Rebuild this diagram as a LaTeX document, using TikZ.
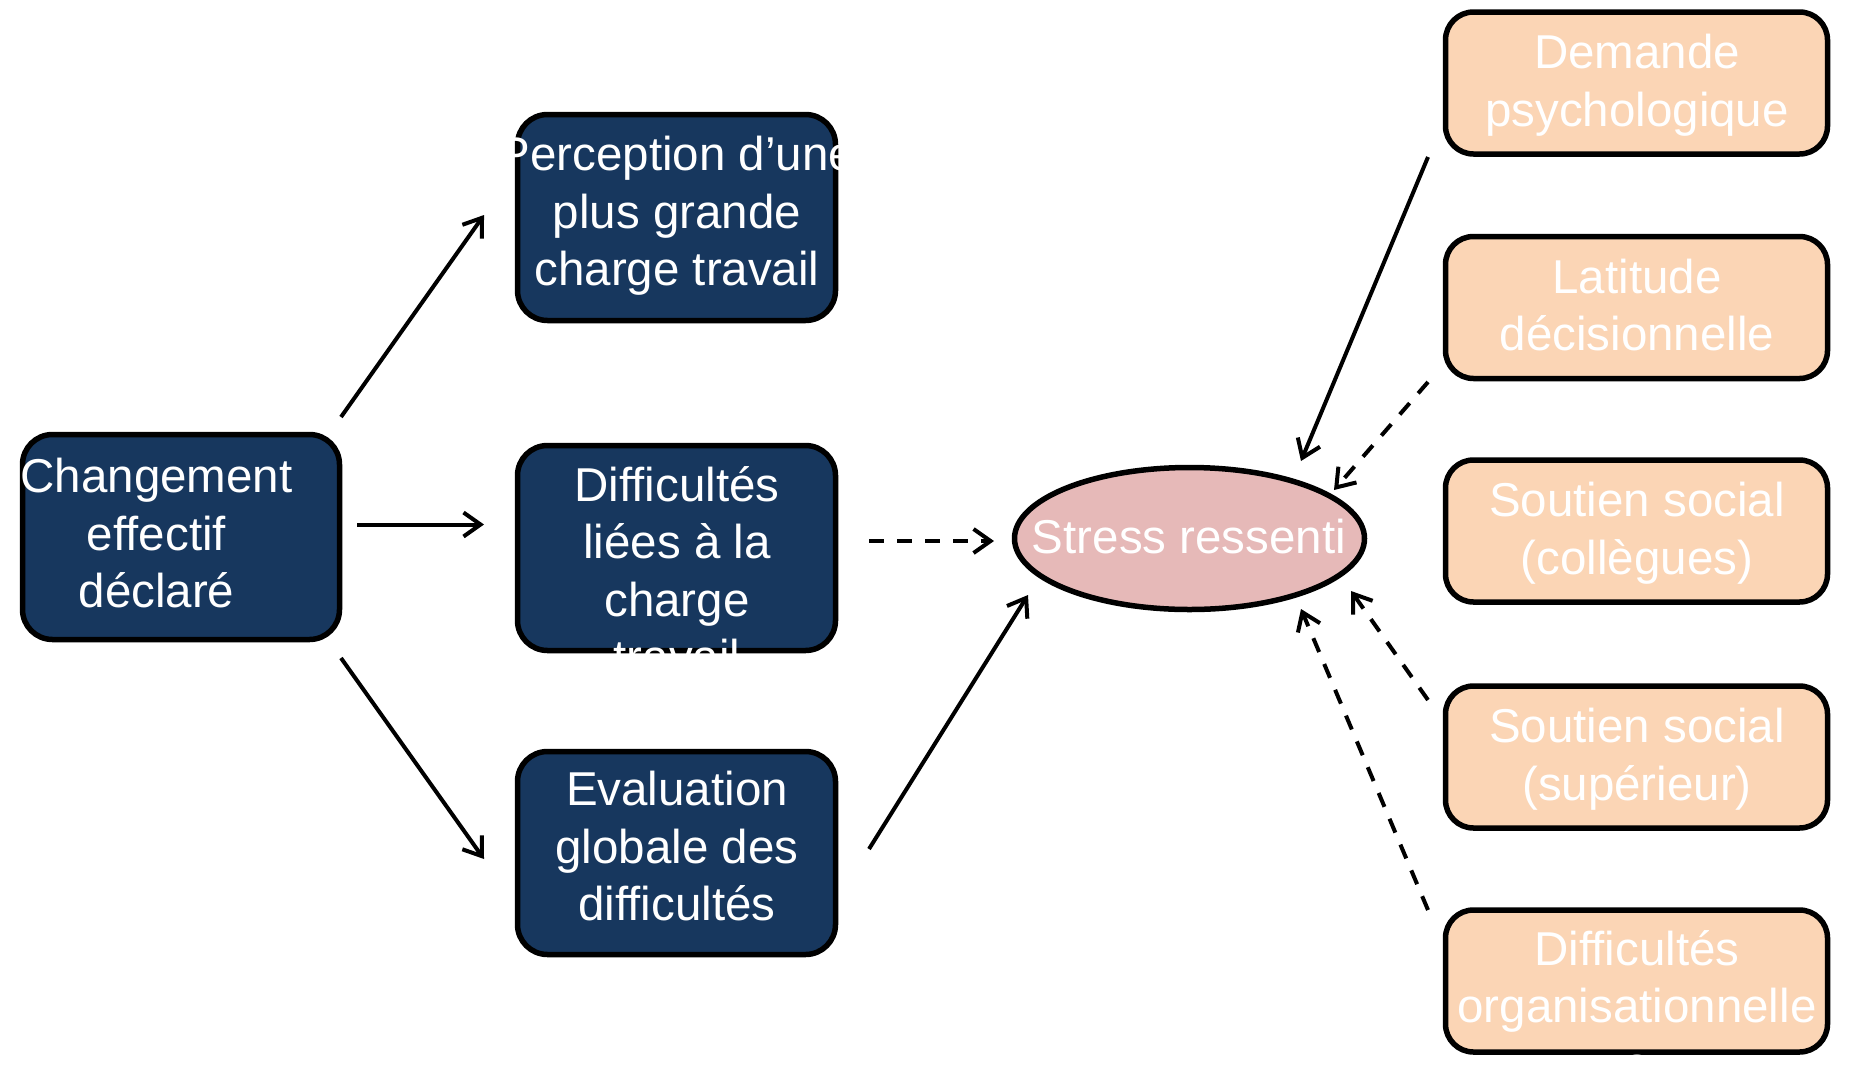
\documentclass[tikz,border=0pt]{standalone}
\usepackage{fontspec}
\setmainfont{Liberation Sans}
\usetikzlibrary{shapes.geometric,arrows.meta}
\definecolor{navy}{HTML}{17375E}
\definecolor{peach}{HTML}{FBD5B5}
\definecolor{rosy}{HTML}{E6B9B8}
\begin{document}
\begin{tikzpicture}[x=1pt,y=-1pt,
  darkbox/.style={draw=black, line width=5.5pt, fill=navy, rounded corners=30pt, minimum width=318pt, minimum height=205pt, inner sep=0pt, outer sep=0pt},
  peachbox/.style={draw=black, line width=5.5pt, fill=peach, rounded corners=28pt, minimum width=382pt, minimum height=142pt, inner sep=0pt, outer sep=0pt},
  txt/.style={text=white, align=center, font=\fontsize{47.5}{57.5}\selectfont, inner sep=0pt},
  arr/.style={line width=4pt, -{Straight Barb[length=17pt,width=24pt]}},
  dsh/.style={arr, dash pattern=on 15pt off 13pt}]
\useasboundingbox (0,0) rectangle (1865,1066);
% left and middle boxes
\node[darkbox, minimum width=317pt] (chg) at (181,537) {};
\node[darkbox, minimum height=206pt] (per) at (676.5,217.5) {};
\node[darkbox] (dif) at (676.5,548) {};
\node[darkbox, minimum height=203pt] (eva) at (676.5,853) {};
% stress ellipse
\node[ellipse, draw=black, line width=5.5pt, fill=rosy, minimum width=350pt, minimum height=142pt, inner sep=0pt, outer sep=0pt] (str) at (1189.5,538.5) {};
% right boxes
\node[peachbox] (dem) at (1636.5,83) {};
\node[peachbox] (lat) at (1636.5,307.5) {};
\node[peachbox] (sc) at (1636.5,531) {};
\node[peachbox] (ss) at (1636.5,757) {};
\node[peachbox] (do) at (1636.5,981) {};
% texts
\node[txt] (tchg) at (156.5,538.5) {\strut Changement\\\strut effectif\\\strut déclaré};
\node[txt] (tper) at (677,216.5) {\strut Perception d’une\\\strut plus grande\\\strut charge travail};
\node[txt] (tdif) at (677,576) {\strut Difficultés\\\strut liées à la\\\strut charge\\\strut travail};
\node[txt] (teva) at (677,851.5) {\strut Evaluation\\\strut globale des\\\strut difficultés};
\node[txt] (tstr) at (1189,542) {\strut Stress ressenti};
\node[txt] (tdem) at (1637,86) {\strut Demande\\\strut psychologique};
\node[txt] (tlat) at (1637,310.5) {\strut Latitude\\\strut décisionnelle};
\node[txt] (tsc) at (1637,534) {\strut Soutien social\\\strut (collègues)};
\node[txt] (tss) at (1637,760) {\strut Soutien social\\\strut (supérieur)};
\node[txt] (tdo) at (1637,1011) {\strut Difficultés\\\strut organisationnelle\\\strut s};
% connectors
\draw[arr] ([shift={(1.5,-17.5)}]chg.north east) -- ([shift={(-33.5,-2.5)}]per.west);
\draw[arr] ([shift={(17.5,-12.5)}]chg.east) -- ([shift={(-33.5,-23.5)}]dif.west);
\draw[arr] ([shift={(1.5,18.5)}]chg.south east) -- ([shift={(-33.5,6)}]eva.west);
\draw[dsh] ([shift={(33.5,-7)}]dif.east) -- ([shift={(-195.5,2.5)}]str.center);
\draw[arr] ([shift={(33.5,-4)}]eva.east) -- ([shift={(-161.5,56.5)}]str.center);
\draw[arr] ([shift={(-17.5,3)}]dem.south west) -- ([shift={(111.5,-77.5)}]str.center);
\draw[dsh] ([shift={(-17.5,3.5)}]lat.south west) -- ([shift={(144.5,-48.5)}]str.center);
\draw[dsh] ([shift={(-17.5,14)}]ss.north west) -- ([shift={(161.5,52.5)}]str.center);
\draw[dsh] ([shift={(-17.5,0)}]do.north west) -- ([shift={(111.5,70.5)}]str.center);
\end{tikzpicture}
\end{document}
